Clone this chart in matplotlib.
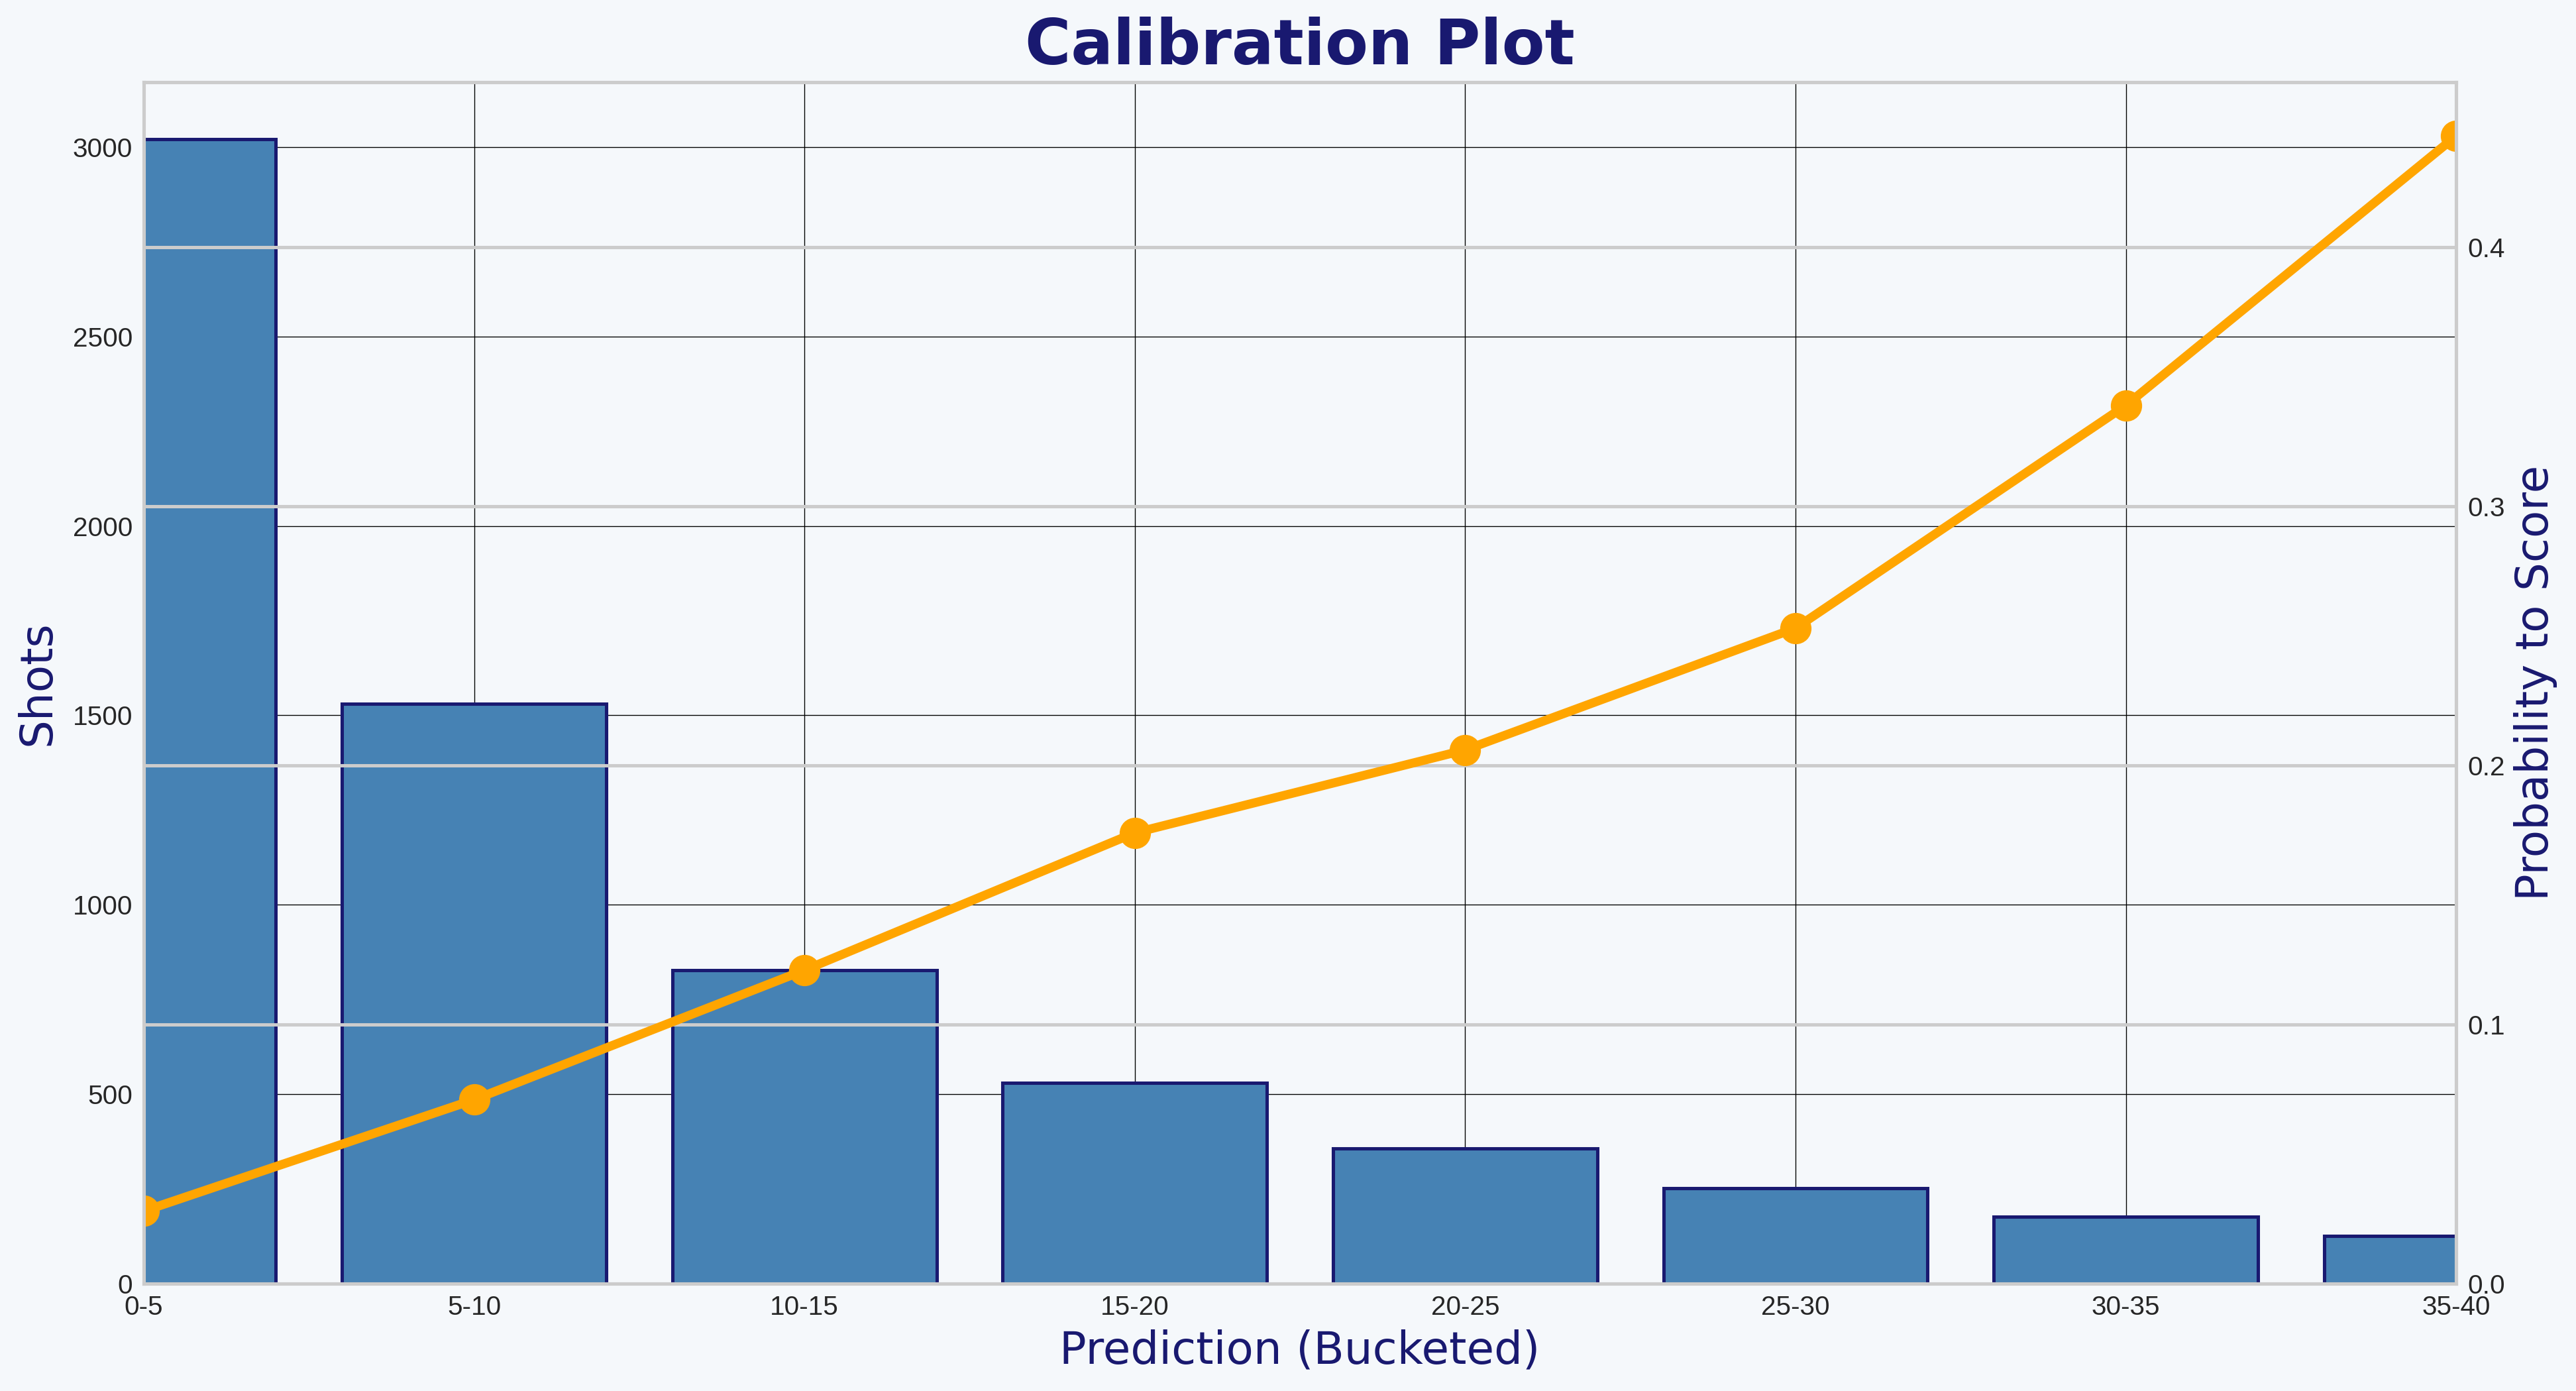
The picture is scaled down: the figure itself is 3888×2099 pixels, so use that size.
import matplotlib
matplotlib.use('agg')
import matplotlib.pyplot as plt

# bucketed predictions
buckets = ['0-5', '5-10', '10-15', '15-20', '20-25', '25-30', '30-35', '35-40']
shots = [3020, 1530, 828, 530, 356, 251, 177, 126]
prob_score = [0.028, 0.071, 0.121, 0.174, 0.206, 0.253, 0.339, 0.443]

bg = '#f5f8fb'
navy = '#191970'

plt.rcParams['font.family'] = ['Liberation Sans', 'DejaVu Sans']

fig = plt.figure(figsize=(16, 8.638), dpi=243, facecolor=bg)
ax1 = fig.add_subplot(111)
fig.subplots_adjust(left=0.0558, right=0.9535, top=0.9409, bottom=0.0772)
ax1.set_facecolor(bg)

x = list(range(len(buckets)))
ax1.bar(x, shots, width=0.8, color='steelblue', edgecolor=navy, linewidth=1.5, zorder=2)
ax1.set_axisbelow(True)
ax1.grid(True, color='black', linewidth=0.4)
ax1.set_xlim(0, len(buckets) - 1)
ax1.set_xticks(x)
ax1.set_xticklabels(buckets)
ax1.set_ylabel('Shots', fontsize=20, color=navy, family='DejaVu Sans', labelpad=6)
ax1.set_xlabel('Prediction (Bucketed)', fontsize=20, color=navy, family='DejaVu Sans')
ax1.tick_params(length=0, labelsize=12, labelcolor='#262626', pad=5)

ax2 = ax1.twinx()
ax2.plot(x, prob_score, color='orange', linewidth=4, marker='o', markersize=13)
ax2.set_ylim(bottom=0)
ax2.grid(True, axis='y', color='#cccccc', linewidth=1.5)
ax2.set_yticks([0.0, 0.1, 0.2, 0.3, 0.4])
ax2.set_yticklabels(['0.0', '0.1', '0.2', '0.3', '0.4'])
ax2.set_ylabel('Probability to Score', fontsize=20, color=navy, family='DejaVu Sans')
ax2.tick_params(length=0, labelsize=12, labelcolor='#262626', pad=5)

for ax in (ax1, ax2):
    for s in ax.spines.values():
        s.set_color('#cccccc')
        s.set_linewidth(1.5)

ax1.set_title('Calibration Plot', fontsize=28, fontweight='bold', color=navy,
              family='DejaVu Sans', pad=8)

plt.savefig('out.png', facecolor=bg)
plt.close()
